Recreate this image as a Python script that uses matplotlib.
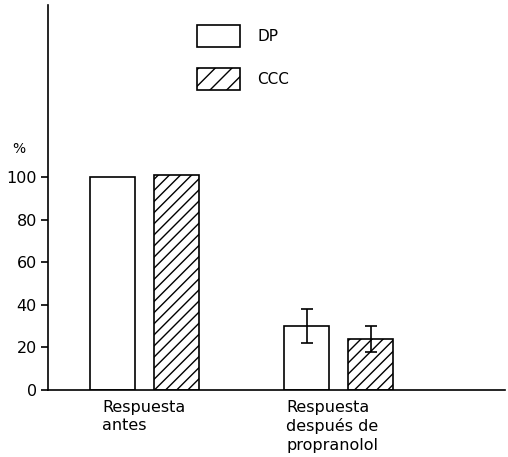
import matplotlib.pyplot as plt
from matplotlib.patches import Patch
import numpy as np

# datos
groups = ['Respuesta\nantes', 'Respuesta\ndespués de\npropranolol']
dp = [100, 30]
dp_err = [0, 8]
ccc = [101, 24]
ccc_err = [0, 6]

plt.rcParams['font.family'] = 'DejaVu Sans'
plt.rcParams['hatch.linewidth'] = 1.0
fig = plt.figure(figsize=(5.08, 4.57), dpi=100)
W, H = 508, 457
ax = fig.add_axes([48 / W, (H - 390) / H, (505 - 48) / W, (390 - 5) / H])

x = np.arange(len(groups))
w = 0.232
off = 0.165
ax.bar(x - off, dp, w, facecolor='white', edgecolor='black', linewidth=1.2)
ax.bar(x + off, ccc, w, facecolor='white', edgecolor='black', linewidth=1.2, hatch='///')
# solo barras de error en el segundo grupo
ax.errorbar(x[1:] - off, dp[1:], yerr=dp_err[1:], fmt='none', ecolor='black',
            elinewidth=1.2, capsize=4, capthick=1.2)
ax.errorbar(x[1:] + off, ccc[1:], yerr=ccc_err[1:], fmt='none', ecolor='black',
            elinewidth=1.2, capsize=4, capthick=1.2)

ax.set_xlim(-0.5, 1.856)
ax.set_ylim(0, 180.7)
ax.set_yticks([0, 20, 40, 60, 80, 100])
ax.tick_params(axis='y', direction='out', length=5, width=1.2, labelsize=11.5, pad=3)
ax.set_xticks([])
ax.spines['top'].set_visible(False)
ax.spines['right'].set_visible(False)
ax.spines['left'].set_linewidth(1.2)
ax.spines['bottom'].set_linewidth(1.2)

# etiquetas de grupo
for xi, g, dx in zip(x, groups, [-0.057, -0.108]):
    ax.text(xi - off + dx, -4.5, g, ha='left', va='top', fontsize=11.5, linespacing=1.3)

fig.text(12 / W, 1 - 149 / H, '%', fontsize=10, ha='left', va='center')

handles = [Patch(facecolor='white', edgecolor='black', linewidth=1.2, label='DP'),
           Patch(facecolor='white', edgecolor='black', linewidth=1.2, hatch='//', label='CCC')]
ax.legend(handles=handles, loc='upper left', bbox_to_anchor=(0.297, 0.983),
          frameon=False, fontsize=11, handlelength=2.8, handleheight=1.8,
          labelspacing=1.4, handletextpad=1.1)

fig.savefig('out.png', dpi=100)
